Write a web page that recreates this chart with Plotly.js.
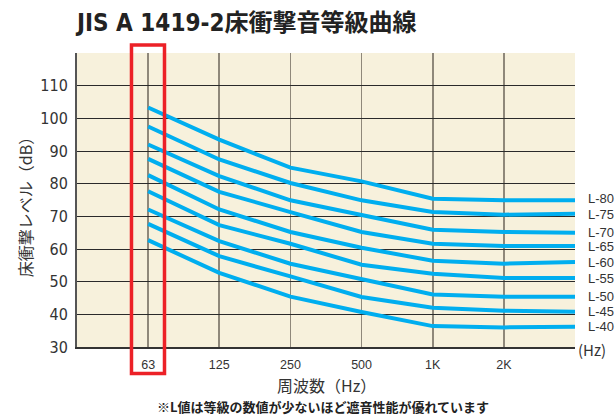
<!DOCTYPE html>
<html>
<head>
<meta charset="utf-8">
<script src="https://cdn.plot.ly/plotly-3.0.1.min.js"></script>
<style>html,body{margin:0;padding:0;background:#fff;}#chart{width:616px;height:416px;}</style>
</head>
<body>
<div id="chart"></div>
<script>
// Frequency bands (positions are the octave index on the x axis)
var freqIndex = [1, 2, 3, 4, 5, 6, 7];
var tickIndex = [1, 2, 3, 4, 5, 6];
var tickLabels = ["63", "125", "250", "500", "1K", "2K"];
var yTicks = [30, 40, 50, 60, 70, 80, 90, 100, 110];

var seriesNames = ["L-80", "L-75", "L-70", "L-65", "L-60", "L-55", "L-50", "L-45", "L-40"];
var L80 = [103.3, 93.5, 84.9, 80.7, 75.4, 74.9, 74.9];
var L75 = [97.5, 87.4, 80.2, 74.9, 71.3, 70.5, 70.8];
var L70 = [92.0, 82.3, 74.9, 70.5, 65.9, 65.2, 65.0];
var L65 = [87.6, 77.5, 71.3, 65.2, 61.6, 60.9, 60.9];
var L60 = [82.6, 72.1, 65.2, 60.4, 56.4, 55.5, 56.0];
var L55 = [77.7, 67.3, 61.6, 55.2, 52.4, 51.1, 51.1];
var L50 = [72.1, 62.4, 55.5, 50.9, 46.1, 45.4, 45.4];
var L45 = [67.7, 57.8, 51.6, 45.3, 42.0, 41.1, 40.8];
var L40 = [62.7, 52.7, 45.4, 40.7, 36.4, 36.0, 36.2];
var seriesValues = [L80, L75, L70, L65, L60, L55, L50, L45, L40];

var lineColor = "#00aeef";
var traces = seriesValues.map(function (vals, i) {
  return {
    type: "scatter", mode: "lines", x: freqIndex, y: vals, name: seriesNames[i],
    line: {color: lineColor, width: 4}, hoverinfo: "skip", showlegend: false
  };
});

var numFont = "Liberation Sans Narrow, DejaVu Sans Condensed, Arial Narrow, sans-serif";
var jpFont = "Noto Sans CJK JP, sans-serif";
var labelNudge = [2, -1, 0, 0, 0, 0, 0, 0, 0];

var annotations = seriesValues.map(function (vals, i) {
  return {
    xref: "x", yref: "y", x: freqIndex[freqIndex.length - 1], y: vals[vals.length - 1],
    text: seriesNames[i], showarrow: false, xanchor: "left", yanchor: "middle", xshift: 11, yshift: labelNudge[i],
    font: {family: "Liberation Sans, Arial, sans-serif", size: 13, color: "#333"}
  };
});
annotations.push(
  {xref: "paper", yref: "paper", x: -0.008, y: 1.102, xanchor: "left", yanchor: "middle",
   text: "JIS A 1419-2床衝撃音等級曲線", showarrow: false,
   font: {family: "DejaVu Sans Condensed, Noto Sans CJK JP, sans-serif", size: 24, color: "#222", weight: "bold"}},
  {xref: "paper", yref: "paper", x: -0.104, y: 0.49, xanchor: "center", yanchor: "middle", textangle: -90,
   text: "床衝撃レベル（dB）", showarrow: false, font: {family: jpFont, size: 16, color: "#333"}},
  {xref: "paper", yref: "paper", x: 0.502, y: -0.129, xanchor: "center", yanchor: "middle",
   text: "周波数（Hz）", showarrow: false, font: {family: jpFont, size: 16, color: "#333"}},
  {xref: "paper", yref: "paper", x: 0.494, y: -0.201, xanchor: "center", yanchor: "middle",
   text: "※L値は等級の数値が少ないほど遮音性能が優れています", showarrow: false,
   font: {family: jpFont, size: 13, color: "#222", weight: "bold"}},
  {xref: "paper", yref: "paper", x: 1, y: -0.01, xanchor: "left", yanchor: "middle", xshift: 1,
   text: "(Hz)", showarrow: false, font: {family: jpFont, size: 15, color: "#333"}}
);

var layout = {
  width: 616, height: 416,
  margin: {l: 77, r: 41, t: 53, b: 69, pad: 0},
  paper_bgcolor: "#ffffff", plot_bgcolor: "#f7f1dc",
  showlegend: false,
  xaxis: {
    range: [0, 7], tickmode: "array", tickvals: tickIndex, ticktext: tickLabels,
    showgrid: true, gridcolor: "#8f887a", gridwidth: 1.6, zeroline: false,
    showline: true, linecolor: "#333", linewidth: 2, ticks: "", ticklabelstandoff: 5,
    tickfont: {family: "Liberation Sans, Arial, sans-serif", size: 12.5, color: "#333"}, fixedrange: true
  },
  yaxis: {
    range: [30, 120], tickmode: "array", tickvals: yTicks,
    showgrid: true, gridcolor: "#2a2a2a", gridwidth: 1, zeroline: false,
    showline: true, linecolor: "#555", linewidth: 2, ticks: "", ticklabelstandoff: 4,
    tickfont: {family: numFont, size: 16, color: "#333"}, fixedrange: true
  },
  shapes: [{
    type: "rect", xref: "paper", yref: "paper", x0: 0.1094, x1: 0.1757, y0: -0.090, y1: 1.027,
    line: {color: "#ec2127", width: 3.5}, fillcolor: "rgba(0,0,0,0)", layer: "above"
  }],
  annotations: annotations
};

Plotly.newPlot("chart", traces, layout, {displayModeBar: false, staticPlot: true});
</script>
</body>
</html>
